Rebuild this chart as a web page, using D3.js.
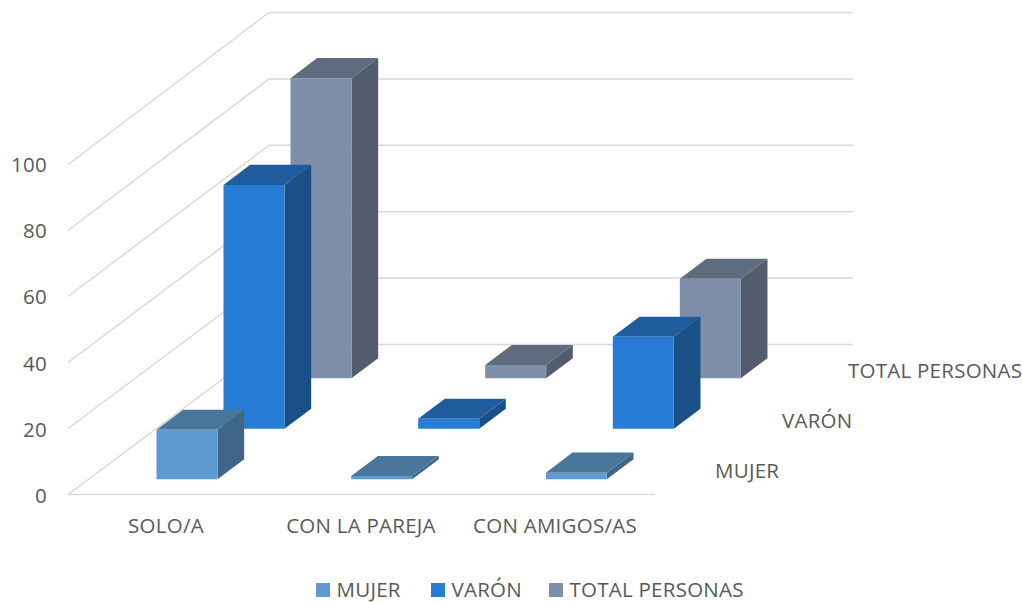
<!DOCTYPE html>
<html>
<head>
<meta charset="utf-8">
<script src="https://cdn.jsdelivr.net/npm/d3@7"></script>
<style>
  html, body { margin: 0; padding: 0; background: #fff; }
  text { font-family: "Open Sans", sans-serif; font-size: 20.5px; letter-spacing: .25px; fill: #595959; }
</style>
</head>
<body>
<svg width="1022" height="603"></svg>
<script>
var categories = ["SOLO/A", "CON LA PAREJA", "CON AMIGOS/AS"];
var seriesNames = ["MUJER", "VARÓN", "TOTAL PERSONAS"];
var mujer = [15, 1, 2];
var varon = [73.7, 3, 27.8];
var total = [90.5, 4, 30];
var yTicks = [0, 20, 40, 60, 80, 100];

// front, side and top colours of each series
var colors = [
  {front: "#5f9bd1", side: "#3f6587", top: "#4a769c"},
  {front: "#277dd6", side: "#1b5087", top: "#1f5c9e"},
  {front: "#7f8ea9", side: "#535c6d", top: "#5f6b7f"}
];

var svg = d3.select("svg");

// plot box: x along the front edge, y up, z is the depth into the page
var x = d3.scaleBand().domain(categories).range([70, 654]);
var yFront = d3.scaleLinear().domain([0, 100]).range([494.5, 164.5]);
var yBack = d3.scaleLinear().domain([0, 100]).range([344.5, 12.5]);
var yLabel = d3.scaleLinear().domain([0, 100]).range([503, 172]);
var z = d3.scaleBand().domain(seriesNames).range([0, 1.01]);

var depthX = 199;
var barWidth = 61;
var barDepth = 0.134;

// project a point of the box to the screen
function pt(px, val, pz) {
  return [px + pz * depthX, yFront(val) * (1 - pz) + yBack(val) * pz];
}
function poly(points, fill) {
  svg.append("polygon")
    .attr("points", points.map(function(p) { return p.join(","); }).join(" "))
    .attr("fill", fill);
}
function line(a, b) {
  svg.append("line")
    .attr("x1", a[0]).attr("y1", a[1])
    .attr("x2", b[0]).attr("y2", b[1])
    .attr("stroke", "#d9d9d9")
    .attr("stroke-width", 1.5);
}

// gridlines on the side wall and the back wall
yTicks.forEach(function(t) {
  line(pt(68, t, 0), pt(70, t, 1));
  line(pt(70, t, 1), pt(654, t, 1));
});
line(pt(68, 0, 0), pt(655, 0, 0));

// back row first, so the nearer bars sit over it
var rows = [mujer, varon, total];
[2, 1, 0].forEach(function(s) {
  var name = seriesNames[s];
  var c = colors[s];
  var z0 = z(name) + (z.bandwidth() - barDepth) / 2;
  var z1 = z0 + barDepth;
  categories.forEach(function(cat, i) {
    var v = rows[s][i];
    var x0 = x(cat) + (x.bandwidth() - barWidth) / 2 - 0.5;
    var x1 = x0 + barWidth;
    poly([pt(x1, 0, z0), pt(x1, 0, z1), pt(x1, v, z1), pt(x1, v, z0)], c.side);
    poly([pt(x0, v, z0), pt(x1, v, z0), pt(x1, v, z1), pt(x0, v, z1)], c.top);
    poly([pt(x0, 0, z0), pt(x1, 0, z0), pt(x1, v, z0), pt(x0, v, z0)], c.front);
  });
});

// value axis labels
svg.selectAll(".ytick")
  .data(yTicks)
  .enter().append("text")
    .attr("class", "ytick")
    .attr("x", 47)
    .attr("y", function(d) { return yLabel(d); })
    .attr("text-anchor", "end")
    .text(function(d) { return d; });

// category labels, offset for the centred depth of the front row
var labelX = [166, 361, 555];
svg.selectAll(".xtick")
  .data(categories)
  .enter().append("text")
    .attr("class", "xtick")
    .attr("x", function(d, i) { return labelX[i]; })
    .attr("y", 533)
    .attr("text-anchor", "middle")
    .text(function(d) { return d; });

// series labels along the depth axis
var depthLabelX = [715, 782, 848];
var depthLabelY = [478, 428, 378];
svg.selectAll(".ztick")
  .data(seriesNames)
  .enter().append("text")
    .attr("class", "ztick")
    .attr("x", function(d, i) { return depthLabelX[i]; })
    .attr("y", function(d, i) { return depthLabelY[i]; })
    .text(function(d) { return d; });

// legend
var legendX = [316, 431, 549];
var legend = svg.selectAll(".legend")
  .data(seriesNames)
  .enter().append("g")
    .attr("class", "legend")
    .attr("transform", function(d, i) { return "translate(" + legendX[i] + ",583)"; });
legend.append("rect")
  .attr("width", 14)
  .attr("height", 14)
  .attr("fill", function(d, i) { return colors[i].front; });
legend.append("text")
  .attr("x", 20.5)
  .attr("y", 14)
  .text(function(d) { return d; });
</script>
</body>
</html>
